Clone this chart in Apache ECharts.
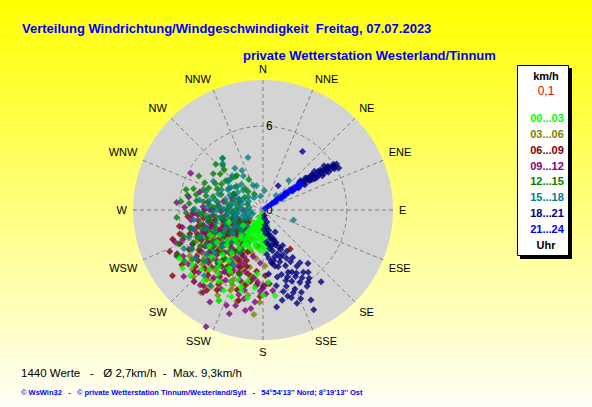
<!DOCTYPE html>
<html><head><meta charset="utf-8">
<script src="https://cdn.jsdelivr.net/npm/echarts/dist/echarts.min.js"></script>
<style>html,body{margin:0;padding:0;background:#fff;}#c{width:592px;height:407px;}</style>
</head><body><div id="c"></div>
<script>
// compass labels for the angle axis (every 22.5 degrees, N at top, clockwise)
const directions = ['N','NNE','NE','ENE','E','ESE','SE','SSE','S','SSW','SW','WSW','W','WNW','NW','NNW'];
// radius ticks shown (km/h)
const speedTicks = [0, 6];
const speedMax = 9.3;
// legend / time bands
const hourBands = ['00...03','03...06','06...09','09...12','12...15','15...18','18...21','21...24'];
const bandColors = ['#00ff00','#808000','#800000','#800080','#008000','#008080','#000080','#0000ff'];
const titleText = 'Verteilung Windrichtung/Windgeschwindigkeit  Freitag, 07.07.2023';
const subtitleText = 'private Wetterstation Westerland/Tinnum';
const statsText = '1440 Werte   -   Ø 2,7km/h  -  Max. 9,3km/h';
const footerText = '© WsWin32   -   © private Wetterstation Tinnum/Westerland/Sylt   -   54°54\'13\'\' Nord; 8°19\'13\'\' Ost';

// points: [direction in degrees, speed in km/h]
const h00_03 = [[185,0.5],[190,0.7],[195,0.9],[200,1.1],[180,0.8],[188,1.2],[196,1.4],[205,1.3],[192,1.7],[183,1.5],[200,1.9],[210,1.6],[187,2.1],[178,1.9],[195,2.3],[203,2.5],[215,2.0],[190,2.7],[182,2.5],[198,2.9],[208,2.8],[220,2.4],[212,3.2],[225,2.9],[176,3.0],[216,3.8],[230,3.3],[222,4.3],[240,3.6],[210,4.8],[185,4.6],[228,5.0],[200,5.3],[236,4.6],[215,5.6],[192,5.2],[226,6.1],[206,6.4],[228,7.0],[200,6.6],[195,6.0],[172,6.2],[206,7.2],[218,5.2],[245,4.2],[175,2.4],[170,1.2],[205,0.6],[215,1.1],[232,1.8],[250,2.6],[212,2.5],
 [195,0.4],[202,0.9],[176,0.9],[212,1.4],[208,2.1],[193,2.0],[184,2.9],[218,3.0],[226,3.6],[235,4.0],[208,5.0],[186,5.6],[222,5.7],[232,6.4],
 [190,0.3],[198,0.6],[186,1.0],[194,1.1],[206,1.0],[180,1.3],[200,1.5],[190,1.5],[214,1.7],[206,1.8],[186,1.9],[198,2.2],[182,2.2],[210,2.3],[218,2.6],[192,2.5],[178,2.7],[204,2.8],[214,4.4],[220,4.8],[204,5.6],[196,5.7],[190,6.4],[212,6.0],[220,6.6],[240,6.9],[234,7.1],[180,6.1],[176,5.2],[168,2.6],[172,1.8],[166,1.4]];
const h03_06 = [[205,3.3],[185,7.5],[217,7.4],[224,7.1],[219,6.4],[178,4.0],[193,4.2],[250,3.8],[227,3.7],[213,4.1],[208,4.6],[198,3.0],[215,2.7],[230,2.4],[240,2.9],[220,5.0],[203,5.4],[235,4.7],[245,5.2],[210,5.9],[195,5.6],[228,5.8],[188,3.5],[200,2.2],[212,1.8],[260,3.1],[255,4.4],[238,6.2],[196,6.8],[225,3.2],[218,4.5],[207,3.9],[232,5.3],[190,4.8],[202,6.2],[270,2.4],[245,1.8],[222,2.1],[186,2.6],[214,6.6],[180,5.5],[195,1.5],[230,1.2],
 [236,3.3],[224,2.6],[210,3.1],[199,4.5],[230,4.2],[242,4.1],[218,5.5],[206,5.0],[190,5.0],[251,3.1],
 [244,3.5],[238,4.0],[232,3.8],[226,4.4],[220,3.8],[214,3.6],[208,4.2],[204,3.7],[200,4.9],[196,5.4],[212,5.2],[222,5.9],[230,6.6],[236,5.6],[248,4.6],[256,3.6],[264,4.0],[190,6.2],[186,5.0],[182,6.6],[202,5.8],[208,6.9],[216,6.2],[226,6.9],[250,5.7],[240,5.0],[228,2.9],[218,1.6],[206,2.4],[194,3.2]];
const h06_09 = [[259,6.1],[234,8.0],[254,6.2],[243,6.9],[230,6.3],[160,2.5],[145,3.4],[175,5.3],[236,2.6],[213,5.7],[193,4.7],[218,6.9],[211,6.2],[193,5.5],[185,5.4],[177,5.3],[225,1.8],[240,2.2],[248,3.0],[232,3.3],[220,2.9],[215,3.6],[205,4.0],[228,4.4],[244,4.9],[252,5.5],[238,5.4],[222,4.9],[200,3.2],[210,2.2],[230,1.4],[250,1.9],[262,4.3],[265,5.4],[225,5.9],[215,7.0],[198,6.0],[190,2.6],[208,1.3],[236,3.9],[246,4.1],[218,3.9],[227,2.6],[255,2.9],[201,4.8],[242,6.0],
 [238,1.9],[232,2.4],[224,3.4],[214,2.6],[206,3.5],[245,3.4],[252,4.2],[258,3.5],[219,4.6],[230,4.9],[196,4.2],[212,4.7],[240,4.6],[226,5.4],[204,5.6],
 [244,2.4],[236,3.0],[226,2.0],[218,2.2],[212,3.3],[204,2.6],[198,3.8],[202,4.4],[208,5.2],[216,5.0],[222,5.5],[234,4.4],[238,4.9],[248,4.4],[254,3.8],[260,3.9],[266,4.7],[270,3.6],[256,4.8],[250,5.0],[244,5.6],[232,5.9],[228,6.6],[220,6.1],[210,6.6],[236,7.0],[246,7.3],[186,4.4],[190,5.2],[195,6.7],[182,6.2],[178,4.7],[170,3.9],[248,6.4],[252,6.8]];
const h09_12 = [[206,9.3],[275,6.2],[266,5.1],[190,7.3],[201,7.3],[196,7.1],[261,4.7],[254,5.1],[235,5.8],[291,2.4],[273,4.3],[297,5.8],[220,7.0],[185,6.6],[182,5.8],[180,5.6],[298,2.3],[290,1.8],[270,1.4],[256,5.3],[270,4.2],[276,3.2],[256,3.0],[198,5.3],[183,3.8],[180,5.4],[173,5.8],[245,4.4],[238,3.6],[228,2.7],[215,3.0],[248,2.3],[262,2.7],[232,4.9],[226,6.4],[212,5.2],[204,4.4],[192,3.4],[208,6.4],[240,6.6],[250,6.1],[264,3.6],[282,2.9],[222,4.1],[215,1.7],[236,1.6],[188,4.9],[196,6.3],[230,7.4],[258,4.0],[244,5.6],
 [246,3.3],[252,3.9],[240,2.8],[234,3.1],[220,3.5],[210,3.9],[226,4.6],[200,4.1],[243,1.9],[268,3.0],[278,4.0],[216,6.0],[236,5.3],[208,5.7],[193,5.9],
 [248,2.8],[242,3.5],[230,3.8],[224,3.0],[218,2.4],[212,4.4],[206,4.8],[202,3.6],[196,4.6],[214,5.5],[220,5.0],[228,5.2],[238,4.4],[250,4.6],[256,4.4],[262,5.2],[268,5.0],[272,5.6],[280,5.4],[286,4.7],[258,5.9],[250,6.7],[242,7.0],[234,6.6],[224,7.1],[216,7.3],[210,7.6],[198,7.8],[192,6.5],[187,7.1],[178,6.0],[184,5.2],[270,3.8],[276,2.4],[262,2.0],[254,2.3],[240,1.3],[228,1.9]];
const h12_15 = [[316,4.0],[322,4.7],[318,4.3],[285,5.7],[275,5.3],[283,4.9],[289,4.5],[320,3.1],[315,3.2],[320,2.0],[331,1.3],[298,2.4],[284,4.2],[285,3.7],[252,6.0],[242,6.9],[237,6.7],[245,5.5],[241,5.8],[206,7.2],[323,3.1],[299,3.9],[299,2.4],[321,1.7],[275,3.8],[266,4.5],[260,2.9],[248,5.1],[267,4.3],[280,2.6],[243,4.5],[219,5.2],[305,1.6],[290,1.2],[270,2.0],[255,2.3],[235,2.9],[228,4.0],[250,3.6],[262,3.4],[308,3.4],[295,4.6],[312,2.5],[278,4.8],[230,5.6],[225,2.0],[240,1.5],[210,3.5],[335,2.4],[200,4.9],
 [258,4.0],[247,2.7],[236,3.5],[232,2.3],[222,3.0],[264,2.2],[272,3.0],[278,1.8],[253,4.6],[244,3.8],[218,4.4],[212,2.7],[290,3.2],[303,2.9],[268,5.5],
 [270,5.0],[276,5.9],[281,5.5],[287,5.2],[292,4.2],[295,3.6],[302,3.5],[310,4.0],[314,4.7],[306,4.4],[298,5.2],[278,4.3],[273,3.5],[262,3.9],[258,4.6],[250,4.2],[246,4.9],[240,5.2],[238,4.2],[232,4.6],[226,5.0],[224,4.2],[216,3.7],[212,4.9],[208,3.2],[235,6.2],[248,6.5],[256,5.4],[265,6.2],[280,3.3],[286,2.3],[294,1.9],[270,2.6],[258,3.0],[240,3.2],[228,3.4],[218,2.4],[236,1.8],[252,2.8],[246,2.0]];
const h15_18 = [[344,3.9],[41,2.8],[42,1.4],[310,3.3],[345,1.8],[4,1.4],[312,1.4],[271,4.9],[279,4.6],[108,2.3],[322,4.7],[319,4.4],[309,3.2],[320,2.4],[268,3.6],[279,2.3],[256,2.0],[270,1.2],[247,4.9],[221,2.5],[215,6.6],[222,6.3],[290,3.4],[300,2.9],[295,1.9],[285,1.6],[260,3.1],[250,2.8],[240,3.4],[235,4.2],[230,2.0],[225,3.2],[245,1.3],[262,4.1],[275,3.2],[305,2.2],[330,2.8],[338,1.9],[325,1.1],[300,4.1],[255,5.2],[232,5.1],[212,4.3],[218,3.8],[242,5.8],[228,4.6],[205,2.7],[264,2.5],[350,1.0],[288,4.3],
 [265,1.8],[255,3.5],[248,2.2],[238,2.6],[230,3.7],[272,2.8],[283,2.0],[294,2.6],[258,1.4],[244,3.0],[226,1.6],[215,2.2],[236,2.0],[280,3.9],[268,4.6],
 [250,0.8],[262,0.9],[280,1.0],[300,1.2],[315,2.0],[305,2.8],[292,2.2],[276,2.4],[262,1.9],[252,1.6],[240,2.3],[232,2.7],[224,2.2],[246,3.8],[252,4.3],[238,4.8],[228,5.5],[220,4.9],[210,3.4],[208,4.5],[258,2.6],[270,3.3],[282,3.5],[296,3.3],[310,2.6],[318,3.3],[326,3.6],[332,3.2],[286,2.8],[274,1.6],[240,1.1],[228,3.9],[250,5.6],[244,6.3],[234,5.9],[262,5.0],[273,4.0],[267,2.2],[254,1.2],[298,1.6]];
const h18_21 = [[162,0.9],[165,1.5],[166,2.1],[151,1.8],[161,2.65],[151,2.9],[166,3.45],[160,3.6],[154,3.85],[149,4.7],[152,5.1],[164,4.8],[160,5.1],[168,4.9],[158,5.5],[153,5.8],[148,6.1],[141,6.6],[166,6.0],[160,6.3],[155,6.5],[162,6.6],[160,7.1],[172,7.0],[153,8.0],
 [170,0.6],[172,1.1],[168,1.8],[174,2.3],[170,2.8],[175,3.2],[167,3.0],[163,2.2],[158,2.5],[171,3.8],[165,4.2],[158,4.3],[150,3.4],[156,3.1],[162,3.3],[155,4.9],[147,5.3],[163,5.7],[170,5.5],[157,6.9],[150,5.6],[144,5.5],[168,4.1],[175,4.6],[178,1.4],
 [165,0.4],[169,1.3],[173,1.7],[164,1.9],[160,2.2],[171,2.5],[166,2.6],[157,2.9],[173,3.5],[168,3.7],[162,3.9],[152,4.2],[148,4.0],[158,4.8],[162,5.3],[154,5.3],[146,5.9],[150,6.3],[158,6.1],[164,6.4],[168,6.6],[152,7.3],[145,4.6],[140,5.0],[156,3.5],
 [54,1.9],[57,2.5],[56,2.8],[58,3.0],[55,3.2],[57,3.4],[59,3.5],[56,3.7],[54,3.9],[58,3.9],[57,4.1],[55,4.3],[59,4.3],[56,4.5],[53,4.6],[58,4.7],[57,4.9],[55,5.0],[59,5.1],[56,5.2],[58,5.4],[57,5.6],[60,5.4],[58,5.8],[57,6.0],[59,6.0],[55,4.0],[52,3.4],[53,3.3],[59,4.5],[60,4.9],[54,5.4],[32,2.05],[34,5.05],
 [53,3.8],[54,4.3],[55,4.8],[56,5.6],[57,5.3],[54,3.5],[56,3.1],[58,4.1],[59,5.7],[60,5.9],[58,6.2],[61,6.2]];
const h21_24 = [[55,0.2],[54,0.4],[56,0.6],[53,0.8],[55,1.0],[57,1.1],[54,1.3],[56,1.5],[53,1.6],[55,1.8],[57,1.9],[54,2.1],[56,2.2],[53,2.4],[55,2.5],[57,2.6],[54,2.8],[56,2.9],[55,3.1],[53,3.2],[58,3.0],[52,2.0],[58,1.6],[52,1.2],[55,2.0],[56,0.9],[54,2.6],[56,3.3]];

const bands = [h00_03, h03_06, h06_09, h09_12, h12_15, h15_18, h18_21, h21_24];
// drawing order (index into bands): lime core kept visible above older layers
const drawOrder = [1,2,3,4,5,0,6,7];

const chart = echarts.init(document.getElementById('c'), null, {renderer:'svg'});

const series = drawOrder.map(i => ({
  type:'scatter', coordinateSystem:'polar', name:hourBands[i],
  symbol:'diamond', symbolSize:7, silent:true,
  itemStyle:{color:bandColors[i]},
  data: bands[i].map(p => [p[1], p[0]])
}));

const legendTexts = [];
legendTexts.push({type:'text', x:546, y:76, style:{text:'km/h', font:'bold 11px "Liberation Sans", Arial', fill:'#000', textAlign:'center', textVerticalAlign:'middle'}});
legendTexts.push({type:'text', x:546, y:91, style:{text:'0,1', font:'12px "Liberation Sans", Arial', fill:'#ff0000', textAlign:'center', textVerticalAlign:'middle'}});
hourBands.forEach((b,i) => legendTexts.push({type:'text', x:547, y:118 + i*15.85, style:{text:b, font:'bold 11px "Liberation Sans", Arial', fill:bandColors[i], textAlign:'center', textVerticalAlign:'middle'}}));
legendTexts.push({type:'text', x:546, y:245, style:{text:'Uhr', font:'bold 11px "Liberation Sans", Arial', fill:'#000', textAlign:'center', textVerticalAlign:'middle'}});

chart.setOption({
  animation:false,
  backgroundColor:{type:'linear', x:0, y:0, x2:0, y2:1, colorStops:[{offset:0, color:'#ffff00'},{offset:1, color:'#fffff8'}]},
  polar:{center:[263,210], radius:130},
  angleAxis:{
    type:'value', min:0, max:360, interval:22.5, startAngle:90, clockwise:true, z:1,
    axisLine:{show:false}, axisTick:{show:false},
    axisLabel:{margin:6, color:'#000', fontSize:11, fontFamily:'"Liberation Sans", Arial',
      formatter: v => v >= 360 ? '' : directions[Math.round(v/22.5) % 16]},
    splitLine:{show:true, lineStyle:{color:'#808080', width:1, type:[4,3]}}
  },
  radiusAxis:{
    type:'value', min:0, max:speedMax, interval:6, z:1,
    axisLine:{show:false}, axisTick:{show:false},
    axisLabel:{color:'#000', fontSize:12, fontFamily:'"Liberation Sans", Arial', align:'left', margin:-3,
      formatter: v => speedTicks.indexOf(v) >= 0 ? String(v) : ''},
    splitLine:{show:true, lineStyle:{color:['#808080','#808080','rgba(0,0,0,0)'], width:1, type:[4,3]}}
  },
  series: series,
  graphic:{elements:[
    {type:'circle', z:-10, shape:{cx:263, cy:210, r:130}, style:{fill:'#d4d4d4'}},
    {type:'text', x:22, y:28, style:{text:titleText, font:'bold 13px "Liberation Sans", Arial', fill:'#0000ff', textVerticalAlign:'middle'}},
    {type:'text', x:243, y:55, style:{text:subtitleText, font:'bold 13px "Liberation Sans", Arial', fill:'#0000ff', textVerticalAlign:'middle'}},
    {type:'text', x:21, y:373, style:{text:statsText, font:'11.5px "Liberation Sans", Arial', fill:'#000', textVerticalAlign:'middle'}},
    {type:'text', x:21, y:392, style:{text:footerText, font:'bold 7.5px "Liberation Sans", Arial', fill:'#0000ff', textVerticalAlign:'middle'}},
    {type:'rect', shape:{x:520, y:68, width:52, height:191}, style:{fill:'#000'}},
    {type:'rect', shape:{x:517.5, y:65.5, width:51, height:190}, style:{fill:'#fff', stroke:'#000', lineWidth:1}},
    ...legendTexts
  ]}
});
</script></body></html>
